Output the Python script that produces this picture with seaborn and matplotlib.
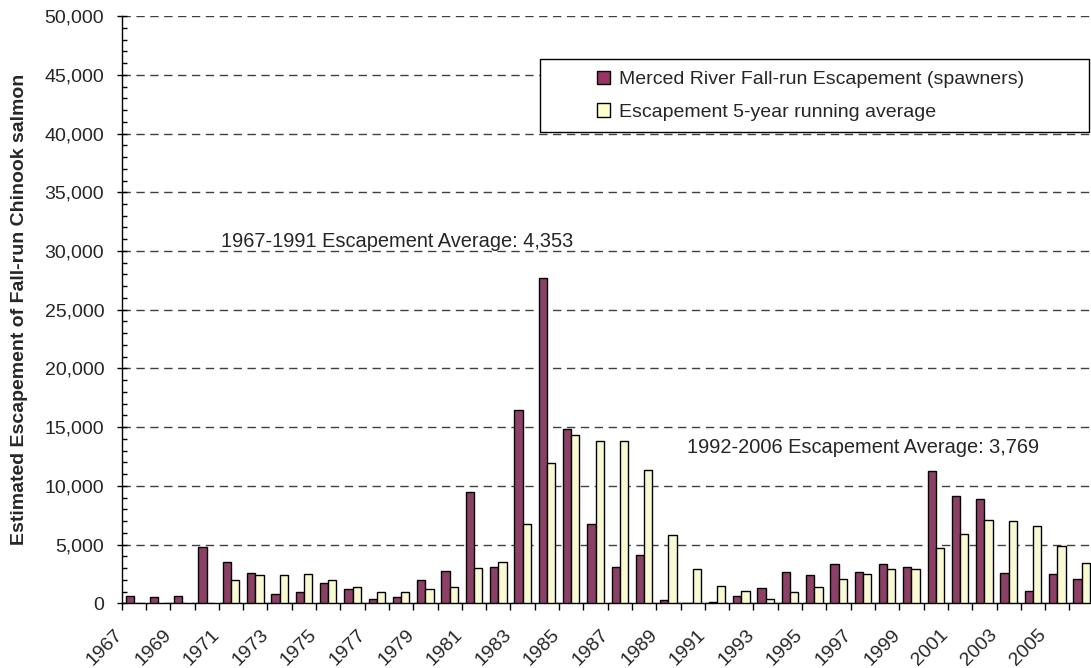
import numpy as np
import pandas as pd
import matplotlib
matplotlib.use("Agg")
import matplotlib.pyplot as plt
import matplotlib.transforms as mtransforms
import seaborn as sns
from matplotlib.patches import Patch, Rectangle
from matplotlib.ticker import FuncFormatter, MultipleLocator

years = list(range(1967, 2007))
escapement = [630, 520, 630, 4770, 3480, 2590, 750, 950, 1720, 1210,
              345, 550, 1950, 2790, 9490, 3100, 16500, 27720, 14870, 6780,
              3100, 4100, 310, 40, 90, 630, 1290, 2690, 2370, 3340,
              2690, 3340, 3110, 11230, 9170, 8860, 2600, 1060, 2490, 2060]
running_avg = [np.nan, np.nan, np.nan, np.nan, 1950, 2390, 2390, 2500, 1950, 1410,
               950, 950, 1210, 1400, 2990, 3530, 6780, 11970, 14330, 13790,
               13790, 11340, 5810, 2880, 1480, 1050, 400, 940, 1400, 2060,
               2490, 2910, 2910, 4740, 5940, 7110, 7000, 6600, 4860, 3460]
series_names = ["Merced River Fall-run Escapement (spawners)",
                "Escapement 5-year running average"]
note_early = "1967-1991 Escapement Average: 4,353"
note_late = "1992-2006 Escapement Average: 3,769"
y_label = "Estimated Escapement of Fall-run Chinook salmon"

colors = ["#993366", "#FFFFCC"]

df = pd.DataFrame({
    "year": [str(y) for y in years] * 2,
    "value": escapement + running_avg,
    "series": [series_names[0]] * len(years) + [series_names[1]] * len(years),
})

sns.set_theme(style="white")
plt.rcParams["font.family"] = ["Liberation Sans", "DejaVu Sans"]

fig = plt.figure(figsize=(10.91, 6.68), dpi=100)
ax = fig.add_axes([0.1115, 0.0969, 0.891, 0.879])

sns.barplot(data=df, x="year", y="value", hue="series", palette=colors,
            order=[str(y) for y in years], hue_order=series_names,
            width=0.68, dodge=True, errorbar=None, edgecolor="black",
            linewidth=1.0, ax=ax, legend=False, zorder=3)

ax.set_xlim(-0.5, len(years) - 0.5)
ax.set_ylim(0, 50000)

# y axis
ax.yaxis.set_major_locator(MultipleLocator(5000))
ax.yaxis.set_minor_locator(MultipleLocator(1000))
ax.yaxis.set_major_formatter(FuncFormatter(lambda v, p: f"{int(v):,}"))
ax.tick_params(axis="y", which="major", direction="inout", length=7, width=1,
               color="black", labelsize=14, pad=9, left=True)
ax.tick_params(axis="y", which="minor", direction="in", length=3.5, width=1,
               color="black", left=True)
ax.yaxis.grid(True, which="major", linestyle=(0, (6, 4)), color="#404040",
              linewidth=1.0, zorder=0)
ax.set_axisbelow(True)

# x axis
ax.set_xticks(range(0, len(years), 2))
ax.set_xticklabels([str(y) for y in years[::2]], rotation=45, ha="right",
                   va="top", rotation_mode="anchor", fontsize=14)
ax.set_xticks(np.arange(-0.5, len(years), 1), minor=True)
ax.tick_params(axis="x", which="major", length=0, pad=0)
ax.tick_params(axis="x", which="minor", direction="out", length=5, width=1,
               color="black", bottom=True)
shift = mtransforms.ScaledTranslation(-20 / 100, -23 / 100, fig.dpi_scale_trans)
for lbl in ax.get_xticklabels():
    lbl.set_transform(lbl.get_transform() + shift)
ax.set_xlabel("")
ax.set_ylabel(y_label, fontsize=14, fontweight="bold")
ax.yaxis.set_label_coords(-0.0964, 0.501)

for side in ["top", "right"]:
    ax.spines[side].set_visible(False)
for side in ["left", "bottom"]:
    ax.spines[side].set_color("black")
    ax.spines[side].set_linewidth(1.0)

# legend box
bx0, by0, bw, bh = 0.43, 0.802, 0.565, 0.1246
ax.add_patch(Rectangle((bx0, by0), bw, bh, transform=ax.transAxes,
                       facecolor="white", edgecolor="black", linewidth=1.0,
                       zorder=4, clip_on=False))
handles = [Patch(facecolor=c, edgecolor="black", linewidth=1.0) for c in colors]
leg = ax.legend(handles, series_names, loc="center",
                bbox_to_anchor=(bx0 + bw / 2 - 0.004, by0 + bh / 2),
                frameon=False, fontsize=14, handlelength=0.7, handleheight=0.7,
                handletextpad=0.45, labelspacing=0.75)
leg.set_zorder(5)

ax.text(0.102, 0.6067, note_early, transform=ax.transAxes, fontsize=14.4,
        va="baseline", ha="left", zorder=5)
ax.text(0.582, 0.2554, note_late, transform=ax.transAxes, fontsize=14.4,
        va="baseline", ha="left", zorder=5)

fig.savefig("out.png", dpi=100)
